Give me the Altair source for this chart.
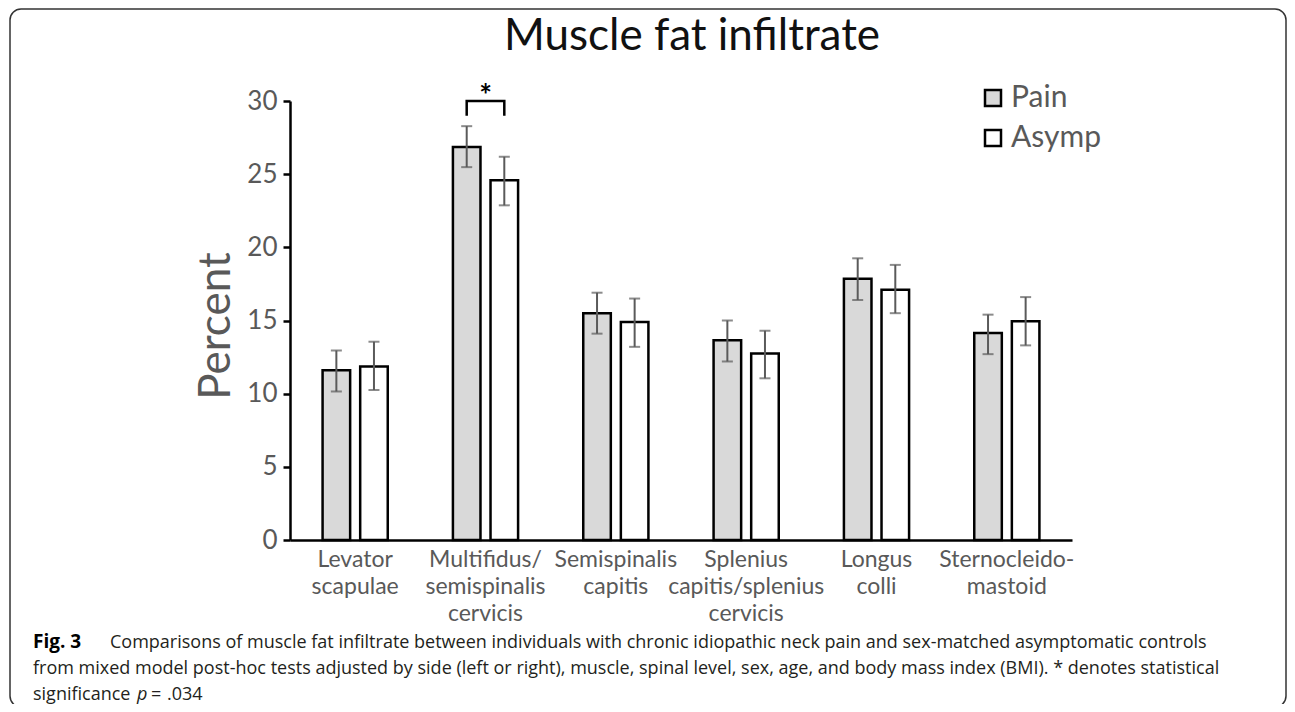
import altair as alt
import pandas as pd

# ---- data ----
categories = ["Levator|scapulae", "Multifidus/|semispinalis|cervicis", "Semispinalis|capitis",
              "Splenius|capitis/splenius|cervicis", "Longus|colli", "Sternocleido-|mastoid"]
groups = ["Pain", "Asymp"]
pain = [11.6, 26.85, 15.5, 13.65, 17.85, 14.15]
pain_lo = [10.15, 25.48, 14.1, 12.2, 16.4, 12.7]
pain_hi = [12.95, 28.28, 16.9, 15.0, 19.25, 15.4]
asymp = [11.85, 24.59, 14.9, 12.75, 17.1, 14.95]
asymp_lo = [10.25, 22.87, 13.2, 11.05, 15.5, 13.3]
asymp_hi = [13.55, 26.19, 16.5, 14.3, 18.8, 16.6]
y_ticks = [0, 5, 10, 15, 20, 25, 30]
bracket_group = ["Pain", "Pain", "Asymp", "Asymp"]
bracket_y = [29.0, 30.0, 30.0, 29.0]
star_y = [30.3]

rows = []
for i, c in enumerate(categories):
    rows.append({"cat": c, "group": "Pain", "value": pain[i], "lo": pain_lo[i], "hi": pain_hi[i]})
    rows.append({"cat": c, "group": "Asymp", "value": asymp[i], "lo": asymp_lo[i], "hi": asymp_hi[i]})
df = pd.DataFrame(rows)

bracket_df = pd.DataFrame({"cat": [categories[1]] * 4, "group": bracket_group,
                           "y": bracket_y, "order": list(range(4))})
star_df = pd.DataFrame({"cat": [categories[1]], "y": star_y, "t": ["*"]})

FONT = "Lato"
CAPFONT = "Open Sans"
GRAY = "#595959"

x_enc = alt.X("cat:N", sort=categories,
              scale=alt.Scale(paddingInner=0.5, paddingOuter=0.25),
              axis=alt.Axis(title=None, labelExpr="split(datum.label, '|')", labelAngle=0,
                            labelFont=FONT, labelFontSize=23, labelColor=GRAY,
                            labelLineHeight=27, labelPadding=8, labelBaseline="top",
                            ticks=False, domainColor="black", domainWidth=2.5))
xo_enc = alt.XOffset("group:N", sort=groups,
                     scale=alt.Scale(domain=groups, paddingInner=0.267, paddingOuter=0))
y_scale = alt.Scale(domain=[0, 30], nice=False)

bars = alt.Chart(df).mark_bar(stroke="black", strokeWidth=2.5).encode(
    x=x_enc,
    xOffset=xo_enc,
    y=alt.Y("value:Q", scale=y_scale,
            axis=alt.Axis(title=None, values=y_ticks, grid=False, labelFont=FONT,
                          labelFontSize=26, labelColor=GRAY, labelPadding=6,
                          tickSize=7, tickWidth=2.5, tickColor="black",
                          domainColor="black", domainWidth=2.5)),
    color=alt.Color("group:N", sort=groups,
                    scale=alt.Scale(domain=groups, range=["#d9d9d9", "#ffffff"]),
                    legend=alt.Legend(title=None, orient="none", legendX=688, legendY=-18,
                                      symbolType="square", symbolSize=256,
                                      symbolStrokeColor="black", symbolStrokeWidth=2.5,
                                      labelFont=FONT, labelFontSize=30, labelColor=GRAY,
                                      labelOffset=3, rowPadding=10, padding=0)),
)

err_rule = alt.Chart(df).mark_rule(color="#5a5a5a", strokeWidth=2).encode(
    x=alt.X("cat:N", sort=categories), xOffset=alt.XOffset("group:N", sort=groups),
    y="lo:Q", y2="hi:Q")
err_lo = alt.Chart(df).mark_tick(color="#5a5a5a", orient="horizontal", size=11, thickness=2).encode(
    x=alt.X("cat:N", sort=categories), xOffset=alt.XOffset("group:N", sort=groups), y="lo:Q")
err_hi = alt.Chart(df).mark_tick(color="#5a5a5a", orient="horizontal", size=11, thickness=2).encode(
    x=alt.X("cat:N", sort=categories), xOffset=alt.XOffset("group:N", sort=groups), y="hi:Q")

bracket = alt.Chart(bracket_df).mark_line(color="black", strokeWidth=2.5).encode(
    x=alt.X("cat:N", sort=categories), xOffset=alt.XOffset("group:N", sort=groups),
    y="y:Q", order="order:Q")
star = alt.Chart(star_df).mark_text(font=FONT, fontSize=30, fontWeight="bold", color="black",
                                    baseline="middle").encode(
    x=alt.X("cat:N", sort=categories), y="y:Q", text="t:N")


def txt(s, x, y, size, color="#222", weight="normal", style="normal", font=FONT,
        align="left", angle=0, baseline="alphabetic"):
    return alt.Chart(pd.DataFrame({"t": [s]})).mark_text(
        font=font, fontSize=size, fontWeight=weight, fontStyle=style, color=color,
        align=align, baseline=baseline, angle=angle).encode(
        x=alt.value(x), y=alt.value(y), text="t:N")


title = txt("Muscle fat infiltrate", 402, -51, 44, color="#111", align="center")
ytitle = txt("Percent", -60, 225, 44, color=GRAY, align="center", angle=270)

cap_color = "#231f20"
CS = 18
cap = [
    txt("Fig. 3", -257, 547, 19, color="black", weight="bold", font=CAPFONT),
    txt("Comparisons of muscle fat infiltrate between individuals with chronic idiopathic neck pain "
        "and sex-matched asymptomatic controls", -180, 547, CS, color=cap_color, font=CAPFONT),
    txt("from mixed model post-hoc tests adjusted by side (left or right), muscle, spinal level, sex, "
        "age, and body mass index (BMI). * denotes statistical", -257, 573, CS, color=cap_color,
        font=CAPFONT),
    txt("significance", -257, 599, CS, color=cap_color, font=CAPFONT),
    txt("p", -153, 599, CS, color=cap_color, style="italic", font=CAPFONT),
    txt("=", -139, 599, CS, color=cap_color, font=CAPFONT),
    txt(".034", -123, 599, CS, color=cap_color, font=CAPFONT),
]

border = alt.Chart(pd.DataFrame({"a": [0]})).mark_rect(
    fill="white", fillOpacity=0, stroke="#333", strokeWidth=1.5, cornerRadius=11).encode(
    x=alt.value(-280), x2=alt.value(996), y=alt.value(-92), y2=alt.value(606))

chart = alt.layer(border, bars, err_rule, err_lo, err_hi, bracket, star, title, ytitle, *cap).properties(
    width=782, height=439,
    autosize=alt.AutoSizeParams(type="none"),
    padding={"left": 282, "top": 93, "right": 215, "bottom": 164},
).configure_view(stroke=None).resolve_scale(x="shared")

chart.save("out.html", embed_options={"renderer": "svg", "actions": False})
